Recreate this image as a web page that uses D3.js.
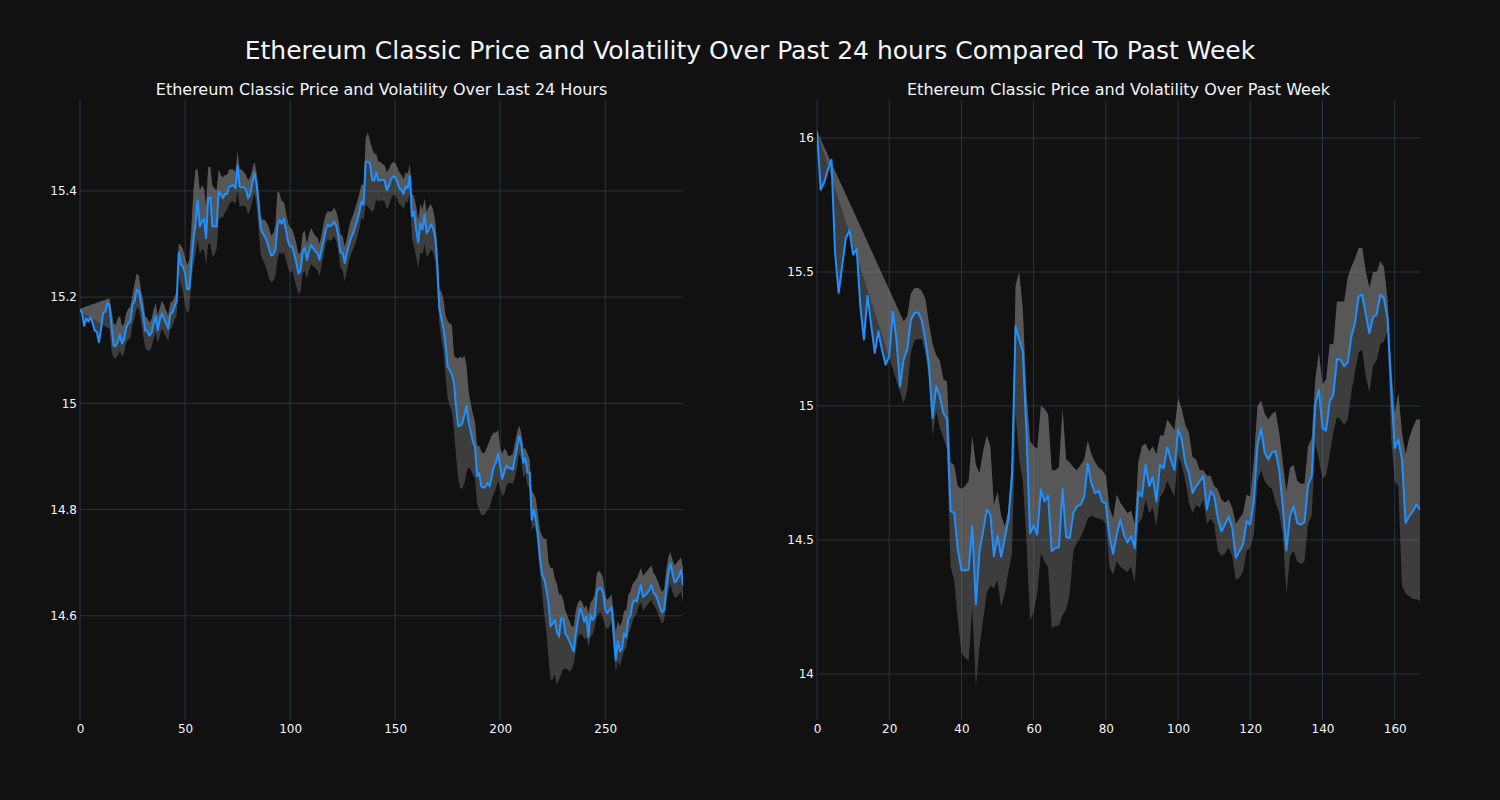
<!DOCTYPE html>
<html><head><meta charset="utf-8">
<script src="https://cdn.jsdelivr.net/npm/d3@7"></script>
<style>html,body{margin:0;padding:0;background:#111111;}</style>
</head><body><div id="chart"></div>
<script>
const mainTitle = "Ethereum Classic Price and Volatility Over Past 24 hours Compared To Past Week";
const dayTitle = "Ethereum Classic Price and Volatility Over Last 24 Hours";
const weekTitle = "Ethereum Classic Price and Volatility Over Past Week";

const dayXTicks = [0, 50, 100, 150, 200, 250];
const dayYTicks = [14.6, 14.8, 15, 15.2, 15.4];
const weekXTicks = [0, 20, 40, 60, 80, 100, 120, 140, 160];
const weekYTicks = [14, 14.5, 15, 15.5, 16];

const dayPrice = [15.176,15.170,15.146,15.160,15.154,15.162,15.151,15.137,15.135,15.115,15.139,15.171,15.172,15.189,15.184,15.145,15.108,15.108,15.117,15.129,
15.112,15.121,15.142,15.151,15.154,15.186,15.192,15.214,15.211,15.189,15.170,15.137,15.137,15.127,15.132,15.150,15.164,15.138,15.157,15.169,
15.160,15.150,15.140,15.169,15.171,15.182,15.192,15.284,15.261,15.258,15.245,15.215,15.215,15.264,15.308,15.339,15.383,15.333,15.342,15.347,
15.311,15.386,15.388,15.333,15.334,15.333,15.399,15.393,15.386,15.394,15.394,15.408,15.409,15.411,15.405,15.447,15.408,15.406,15.407,15.402,
15.386,15.393,15.414,15.434,15.414,15.377,15.330,15.320,15.314,15.305,15.290,15.278,15.280,15.289,15.335,15.345,15.338,15.347,15.327,15.305,
15.295,15.296,15.280,15.264,15.244,15.251,15.286,15.292,15.270,15.286,15.298,15.292,15.286,15.283,15.270,15.289,15.308,15.327,15.336,15.333,
15.336,15.342,15.333,15.314,15.284,15.283,15.264,15.283,15.298,15.311,15.320,15.333,15.345,15.361,15.380,15.374,15.455,15.455,15.452,15.421,
15.419,15.434,15.419,15.421,15.421,15.419,15.401,15.408,15.421,15.427,15.426,15.417,15.405,15.402,15.394,15.408,15.405,15.428,15.352,15.361,
15.327,15.303,15.339,15.327,15.355,15.320,15.327,15.337,15.330,15.314,15.264,15.180,15.160,15.140,15.110,15.068,15.063,15.054,15.038,14.994,
14.957,14.958,14.963,14.979,14.996,14.963,14.947,14.927,14.919,14.863,14.869,14.844,14.841,14.843,14.850,14.844,14.863,14.881,14.889,14.905,
14.881,14.858,14.872,14.883,14.878,14.878,14.875,14.897,14.916,14.938,14.925,14.888,14.897,14.870,14.870,14.781,14.800,14.780,14.750,14.705,
14.677,14.668,14.649,14.624,14.580,14.586,14.592,14.570,14.561,14.595,14.595,14.567,14.560,14.552,14.542,14.533,14.567,14.592,14.614,14.605,
14.589,14.599,14.560,14.602,14.592,14.599,14.646,14.652,14.652,14.643,14.611,14.605,14.611,14.617,14.567,14.517,14.552,14.533,14.539,14.567,
14.560,14.595,14.599,14.624,14.630,14.627,14.643,14.658,14.636,14.639,14.643,14.649,14.658,14.643,14.639,14.630,14.617,14.606,14.611,14.649,
14.680,14.699,14.680,14.663,14.666,14.674,14.686,14.658];

const dayUpper = [15.178,null,null,null,null,null,null,null,null,null,null,null,null,null,15.198,15.175,15.150,15.148,15.160,15.165,
15.145,15.150,15.170,15.178,15.182,15.205,15.225,15.245,15.240,15.215,15.195,15.165,15.160,15.152,15.158,15.175,15.188,15.165,15.180,15.192,
15.185,15.175,15.165,15.190,15.192,15.200,15.210,15.300,15.298,15.290,15.275,15.260,15.270,15.330,15.400,15.440,15.440,15.400,15.410,15.405,
15.370,15.445,15.445,15.410,15.405,15.400,15.440,15.430,15.425,15.430,15.430,15.440,15.440,15.440,15.435,15.474,15.440,15.440,15.435,15.430,
15.420,15.425,15.440,15.455,15.435,15.400,15.350,15.345,15.345,15.340,15.330,15.315,15.320,15.335,15.400,15.395,15.380,15.380,15.360,15.340,
15.330,15.328,15.315,15.300,15.280,15.285,15.320,15.325,15.300,15.318,15.330,15.322,15.315,15.312,15.300,15.318,15.340,15.355,15.362,15.360,
15.362,15.368,15.360,15.345,15.318,15.315,15.295,15.310,15.330,15.345,15.355,15.368,15.380,15.395,15.412,15.410,15.500,15.510,15.495,15.480,
15.470,15.470,15.455,15.455,15.450,15.448,15.435,15.440,15.450,15.455,15.452,15.445,15.435,15.430,15.422,15.435,15.432,15.450,15.395,15.390,
15.370,15.345,15.375,15.365,15.385,15.360,15.370,15.375,15.365,15.345,15.300,15.215,15.210,15.195,15.165,15.155,15.150,15.148,15.090,15.085,
15.085,15.088,15.085,15.090,15.070,15.020,15.000,14.980,14.965,14.920,14.920,14.910,14.905,14.910,14.920,14.930,14.940,14.945,14.945,14.950,
14.915,14.905,14.915,14.910,14.900,14.902,14.905,14.925,14.945,14.958,14.945,14.915,14.915,14.905,14.895,14.835,14.830,14.820,14.790,14.760,
14.750,14.745,14.745,14.700,14.690,14.690,14.670,14.660,14.640,14.640,14.630,14.610,14.600,14.590,14.580,14.580,14.610,14.625,14.630,14.625,
14.615,14.620,14.605,14.625,14.630,14.640,14.680,14.685,14.680,14.670,14.640,14.630,14.635,14.640,14.605,14.570,14.590,14.580,14.590,14.610,
14.610,14.640,14.645,14.660,14.665,14.670,14.680,14.690,14.675,14.680,14.685,14.690,14.695,14.680,14.675,14.665,14.655,14.645,14.650,14.685,
14.710,14.720,14.705,14.695,14.700,14.705,14.710,14.690];

const dayLower = [15.174,null,null,null,null,null,null,null,null,null,null,null,null,null,15.140,15.100,15.085,15.085,15.090,15.098,
15.088,15.095,15.115,15.120,15.122,15.150,15.160,15.180,15.178,15.155,15.130,15.105,15.100,15.098,15.105,15.120,15.135,15.112,15.128,15.140,
15.132,15.125,15.118,15.140,15.145,15.158,15.165,15.240,15.225,15.210,15.185,15.170,15.175,15.230,15.260,15.280,15.310,15.280,15.290,15.290,
15.260,15.300,15.300,15.275,15.280,15.290,15.345,15.350,15.350,15.360,15.365,15.375,15.380,15.380,15.375,15.400,15.370,15.372,15.372,15.370,
15.355,15.365,15.380,15.395,15.375,15.330,15.280,15.270,15.262,15.250,15.235,15.228,15.230,15.240,15.270,15.285,15.280,15.285,15.270,15.255,
15.245,15.250,15.235,15.220,15.205,15.210,15.245,15.250,15.235,15.250,15.262,15.258,15.255,15.250,15.240,15.260,15.280,15.300,15.310,15.305,
15.308,15.315,15.305,15.285,15.255,15.250,15.230,15.250,15.268,15.280,15.290,15.300,15.312,15.330,15.350,15.345,15.375,15.370,15.365,15.360,
15.365,15.385,15.380,15.382,15.382,15.380,15.365,15.372,15.385,15.392,15.392,15.385,15.375,15.372,15.365,15.380,15.378,15.395,15.310,15.295,
15.275,15.255,15.285,15.280,15.300,15.275,15.280,15.290,15.285,15.270,15.220,15.150,15.120,15.100,15.050,15.010,14.995,14.985,14.950,14.900,
14.860,14.840,14.840,14.850,14.870,14.880,14.875,14.865,14.860,14.810,14.800,14.790,14.790,14.792,14.800,14.805,14.820,14.830,14.840,14.855,
14.840,14.825,14.830,14.845,14.850,14.850,14.848,14.860,14.880,14.905,14.895,14.860,14.868,14.845,14.840,14.760,14.770,14.760,14.720,14.680,
14.640,14.600,14.570,14.520,14.480,14.480,14.490,14.470,14.480,14.490,14.500,14.500,14.500,14.495,14.500,14.510,14.535,14.560,14.565,14.565,
14.555,14.560,14.540,14.560,14.565,14.580,14.600,14.605,14.605,14.595,14.580,14.575,14.580,14.590,14.535,14.495,14.515,14.505,14.520,14.535,
14.540,14.565,14.575,14.590,14.600,14.605,14.620,14.625,14.610,14.615,14.620,14.625,14.630,14.620,14.615,14.605,14.595,14.585,14.590,14.620,
14.645,14.660,14.645,14.635,14.635,14.640,14.645,14.625];

const weekPrice = [16.025,15.807,15.835,15.882,15.919,15.571,15.422,15.527,15.627,15.655,15.565,15.586,15.372,15.248,15.412,15.303,15.198,15.279,15.210,15.154,
15.185,15.353,15.248,15.073,15.173,15.210,15.322,15.347,15.350,15.320,15.248,15.154,14.955,15.073,15.036,14.974,14.951,14.607,14.601,14.464,
14.387,14.387,14.389,14.553,14.259,14.458,14.532,14.613,14.594,14.439,14.516,14.437,14.507,14.576,14.738,15.297,15.248,15.204,14.905,14.524,
14.553,14.520,14.688,14.644,14.665,14.458,14.470,14.473,14.690,14.511,14.507,14.601,14.626,14.631,14.662,14.784,14.711,14.674,14.684,14.643,
14.637,14.512,14.448,14.519,14.575,14.519,14.490,14.515,14.469,14.680,14.662,14.780,14.701,14.734,14.643,14.780,14.767,14.846,14.799,14.761,
14.913,14.876,14.787,14.750,14.675,14.700,14.719,14.738,14.613,14.682,14.663,14.582,14.532,14.557,14.586,14.545,14.433,14.458,14.483,14.570,
14.557,14.650,14.856,14.914,14.825,14.800,14.827,14.831,14.762,14.626,14.461,14.588,14.626,14.563,14.557,14.566,14.706,14.738,15.005,15.061,
14.918,14.908,15.017,15.042,15.175,15.173,15.148,15.163,15.260,15.310,15.409,15.415,15.341,15.270,15.332,15.341,15.415,15.403,15.328,15.073,
14.843,14.874,14.800,14.563,14.588,14.607,14.632,14.613];

const weekUpper = [16.025,null,null,null,null,null,null,null,null,null,null,null,null,null,null,null,null,null,null,null,
null,null,null,null,15.316,15.335,15.420,15.440,15.440,15.430,15.400,15.310,15.230,15.190,15.170,15.100,15.090,14.790,14.780,14.700,
14.690,14.700,14.720,14.890,14.780,14.750,14.830,14.890,14.850,14.630,14.680,14.590,14.550,14.610,14.800,15.450,15.500,15.360,15.050,14.870,
14.850,14.840,15.000,14.990,14.970,14.760,14.760,14.770,14.990,14.800,14.790,14.770,14.760,14.780,14.800,14.870,14.820,14.790,14.770,14.760,
14.740,14.620,14.580,14.670,14.640,14.620,14.600,14.610,14.560,14.790,14.850,14.860,14.830,14.850,14.820,14.890,14.890,14.950,14.930,14.910,
15.030,14.990,14.930,14.900,14.810,14.800,14.760,14.760,14.740,14.740,14.700,14.690,14.650,14.640,14.650,14.620,14.560,14.580,14.600,14.670,
14.660,14.800,15.000,15.020,14.970,14.950,14.970,14.980,14.900,14.790,14.680,14.770,14.780,14.720,14.710,14.710,14.850,14.880,15.100,15.200,
15.080,15.100,15.230,15.230,15.390,15.390,15.390,15.480,15.520,15.550,15.590,15.590,15.500,15.440,15.500,15.500,15.540,15.520,15.400,15.150,
14.970,15.050,14.900,14.820,14.880,14.920,14.950,14.950];

const weekLower = [16.025,null,null,null,null,null,null,null,null,null,null,null,null,null,null,null,null,null,null,null,
null,null,null,null,15.010,15.060,15.200,15.245,15.250,15.250,15.200,15.100,14.890,14.980,14.920,14.880,14.840,14.400,14.350,14.200,
14.080,14.060,14.050,14.250,13.950,14.100,14.200,14.300,14.330,14.320,14.350,14.250,14.300,14.380,14.450,14.970,14.800,14.720,14.500,14.200,
14.230,14.300,14.450,14.420,14.400,14.170,14.180,14.180,14.220,14.240,14.300,14.460,14.490,14.510,14.540,14.580,14.590,14.585,14.580,14.575,
14.560,14.400,14.370,14.420,14.400,14.390,14.380,14.400,14.340,14.560,14.580,14.650,14.600,14.620,14.550,14.660,14.680,14.720,14.690,14.660,
14.820,14.780,14.720,14.640,14.600,14.630,14.620,14.650,14.560,14.580,14.560,14.460,14.440,14.450,14.470,14.440,14.350,14.360,14.380,14.460,
14.470,14.520,14.720,14.760,14.720,14.700,14.690,14.640,14.600,14.520,14.300,14.440,14.460,14.420,14.410,14.420,14.560,14.590,14.860,14.800,
14.730,14.740,14.820,14.900,14.960,14.950,14.930,14.950,15.050,15.130,15.200,15.210,15.110,15.050,15.150,15.170,15.230,15.240,15.280,14.880,
14.720,14.700,14.330,14.300,14.290,14.280,14.280,14.270];

const W = 1500, H = 800;
const FONT = "'DejaVu Sans', Verdana, sans-serif";
const TXT = "#f2f5fa", GRID = "#283442", LINE = "#1e90ff";
const BAND = "rgba(128,128,128,0.4)";

const svg = d3.select("#chart").append("svg")
  .attr("width", W).attr("height", H)
  .style("background", "#111111").style("font-family", FONT);
svg.append("rect").attr("width", W).attr("height", H).attr("fill", "#111111");

svg.append("text").attr("x", 750).attr("y", 59).attr("text-anchor", "middle")
  .attr("fill", TXT).style("font-size", "25px").text(mainTitle);

function panel(cfg) {
  const x = d3.scaleLinear().domain(cfg.xDomain).range([cfg.left, cfg.right]);
  const y = d3.scaleLinear().domain(cfg.yDomain).range([cfg.bottom, cfg.top]);
  const g = svg.append("g");

  // grid
  g.append("g").selectAll("line").data(cfg.xTicks).join("line")
    .attr("x1", d => x(d)).attr("x2", d => x(d)).attr("y1", cfg.top).attr("y2", cfg.bottom)
    .attr("stroke", GRID).attr("stroke-width", 1);
  g.append("g").selectAll("line").data(cfg.yTicks).join("line")
    .attr("x1", cfg.left).attr("x2", cfg.right).attr("y1", d => y(d)).attr("y2", d => y(d))
    .attr("stroke", GRID).attr("stroke-width", 1);

  const rows = cfg.price.map((p, i) => ({ i, p, u: cfg.upper[i], l: cfg.lower[i] }));
  const banded = rows.filter(r => r.u != null && r.l != null);

  const clipId = "clip" + cfg.left;
  svg.append("clipPath").attr("id", clipId).append("rect")
    .attr("x", cfg.left).attr("y", cfg.top).attr("width", cfg.right - cfg.left).attr("height", cfg.bottom - cfg.top);
  const plot = g.append("g").attr("clip-path", `url(#${clipId})`);

  // band: upper bound to lower bound
  const bandArea = d3.area().x(r => x(r.i)).y0(r => y(r.l)).y1(r => y(r.u));
  plot.append("path").datum(banded).attr("d", bandArea).attr("fill", BAND);

  // fill from upper bound (gaps joined) down to the full price line
  const ring = banded.map(r => [x(r.i), y(r.u)])
    .concat(rows.slice().reverse().map(r => [x(r.i), y(r.p)]));
  plot.append("path").attr("d", d3.line()(ring) + "Z").attr("fill", BAND);

  const line = d3.line().x(r => x(r.i)).y(r => y(r.p));
  plot.append("path").datum(rows).attr("d", line)
    .attr("fill", "none").attr("stroke", LINE).attr("stroke-width", 2).attr("stroke-linejoin", "round");

  // axes
  const xAxis = d3.axisBottom(x).tickValues(cfg.xTicks).tickSize(0).tickPadding(0).tickFormat(d3.format("~g"));
  const xg = g.append("g").attr("transform", `translate(0,${cfg.bottom})`).call(xAxis);
  xg.select(".domain").remove();
  xg.selectAll("text").attr("y", 0).attr("dy", "13px").attr("fill", TXT).style("font-size", "12px").style("font-family", FONT);

  const yAxis = d3.axisLeft(y).tickValues(cfg.yTicks).tickSize(0).tickPadding(3).tickFormat(d3.format("~g"));
  const yg = g.append("g").attr("transform", `translate(${cfg.left},0)`).call(yAxis);
  yg.select(".domain").remove();
  yg.selectAll("text").attr("fill", TXT).style("font-size", "12px").style("font-family", FONT);

  svg.append("text").attr("x", (cfg.left + cfg.right) / 2).attr("y", 95).attr("text-anchor", "middle")
    .attr("fill", TXT).style("font-size", "16px").text(cfg.title);
}

panel({ left: 80, right: 683, top: 100, bottom: 720, xDomain: [0, 287], yDomain: [14.404, 15.571],
  xTicks: dayXTicks, yTicks: dayYTicks, price: dayPrice, upper: dayUpper, lower: dayLower, title: dayTitle });
panel({ left: 817, right: 1420, top: 100, bottom: 720, xDomain: [0, 167], yDomain: [13.828, 16.142],
  xTicks: weekXTicks, yTicks: weekYTicks, price: weekPrice, upper: weekUpper, lower: weekLower, title: weekTitle });
</script></body></html>
